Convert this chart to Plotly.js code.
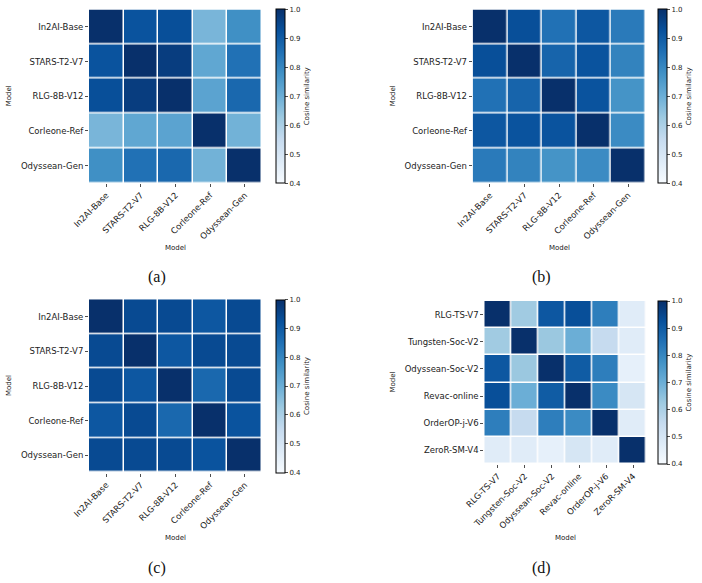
<!DOCTYPE html>
<html>
<head>
<meta charset="utf-8">
<script src="https://cdn.plot.ly/plotly-3.0.1.min.js"></script>
<style>html,body{margin:0;padding:0;background:#fff;}#chart{width:702px;height:583px;}</style>
</head>
<body>
<div id="chart"></div>
<script>
const modelsABC = ["In2AI-Base", "STARS-T2-V7", "RLG-8B-V12", "Corleone-Ref", "Odyssean-Gen"];
const modelsD = ["RLG-TS-V7", "Tungsten-Soc-V2", "Odyssean-Soc-V2", "Revac-online", "OrderOP-j-V6", "ZeroR-SM-V4"];

const simA = [
  [1.00, 0.92, 0.93, 0.68, 0.78],
  [0.92, 1.00, 0.97, 0.72, 0.85],
  [0.93, 0.97, 1.00, 0.73, 0.87],
  [0.68, 0.72, 0.73, 1.00, 0.69],
  [0.78, 0.85, 0.87, 0.69, 1.00]
];
const simB = [
  [1.00, 0.93, 0.85, 0.91, 0.83],
  [0.93, 1.00, 0.88, 0.92, 0.81],
  [0.85, 0.88, 1.00, 0.92, 0.77],
  [0.91, 0.92, 0.92, 1.00, 0.79],
  [0.83, 0.81, 0.77, 0.79, 1.00]
];
const simC = [
  [1.00, 0.94, 0.94, 0.91, 0.94],
  [0.94, 1.00, 0.91, 0.94, 0.94],
  [0.94, 0.91, 1.00, 0.87, 0.94],
  [0.91, 0.94, 0.87, 1.00, 0.92],
  [0.94, 0.94, 0.94, 0.92, 1.00]
];
const simD = [
  [1.00, 0.62, 0.91, 0.93, 0.82, 0.47],
  [0.62, 1.00, 0.63, 0.70, 0.55, 0.47],
  [0.91, 0.63, 1.00, 0.90, 0.82, 0.45],
  [0.93, 0.70, 0.90, 1.00, 0.79, 0.50],
  [0.82, 0.55, 0.82, 0.79, 1.00, 0.47],
  [0.47, 0.47, 0.45, 0.50, 0.47, 1.00]
];
const cbTicks = [0.4, 0.5, 0.6, 0.7, 0.8, 0.9, 1.0];
const captions = ["(a)", "(b)", "(c)", "(d)"];

const W = 702, H = 583;
const px = v => v / W;
const py = v => 1 - v / H;

const blues = [
  [0.0, "#f7fbff"], [0.125, "#deebf7"], [0.25, "#c6dbef"], [0.375, "#9ecae1"],
  [0.5, "#6baed6"], [0.625, "#4292c6"], [0.75, "#2171b5"], [0.875, "#08519c"], [1.0, "#08306b"]
];

// panel geometry in pixels: [left, right, top, bottom]
const panels = [
  {l: 89, r: 262, t: 9.5, b: 183, cbx: 276, xt: 248, yx: 9, cap: 277, labels: modelsABC, z: simA},
  {l: 472.7, r: 645.3, t: 9.5, b: 183, cbx: 658, xt: 248, yx: 393, cap: 277, labels: modelsABC, z: simB},
  {l: 89, r: 262, t: 299.3, b: 472.7, cbx: 276, xt: 538, yx: 9, cap: 568, labels: modelsABC, z: simC},
  {l: 484.3, r: 646.7, t: 301, b: 464, cbx: 658, xt: 538, yx: 393, cap: 568, labels: modelsD, z: simD}
];
const capX = [157, 541.7, 157, 541.7];

const font = "DejaVu Sans, Liberation Sans, sans-serif";
const data = [];
const layout = {
  width: W, height: H,
  margin: {l: 0, r: 0, t: 0, b: 0},
  paper_bgcolor: "#fff", plot_bgcolor: "#fff",
  font: {family: font, color: "#222"},
  showlegend: false,
  annotations: []
};

panels.forEach((p, i) => {
  const n = i === 0 ? "" : String(i + 1);
  data.push({
    type: "heatmap",
    x: p.labels, y: p.labels, z: p.z,
    xaxis: "x" + n, yaxis: "y" + n,
    zmin: 0.4, zmax: 1.0,
    colorscale: blues,
    xgap: 1.5, ygap: 1.5,
    hoverongaps: false,
    colorbar: {
      x: px(p.cbx), xanchor: "left", xpad: 0, ypad: 0,
      y: py((p.t + p.b) / 2), yanchor: "middle",
      lenmode: "pixels", len: p.b - p.t,
      thickness: 9,
      outlinewidth: 1, outlinecolor: "#000",
      tickvals: cbTicks, tickformat: ".1f",
      ticks: "outside", ticklen: 3, tickwidth: 0.8, tickcolor: "#222",
      tickfont: {size: 7, family: font, color: "#222"},
      title: {text: "Cosine similarity", side: "right", font: {size: 7, family: font, color: "#222"}}
    }
  });
  layout["xaxis" + n] = {
    domain: [px(p.l), px(p.r)],
    anchor: "y" + n,
    type: "category",
    tickangle: -45,
    ticks: "outside", ticklen: 3, tickwidth: 0.8, tickcolor: "#222",
    tickfont: {size: 8.5, family: font, color: "#222"},
    showgrid: false, zeroline: false, showline: false,
    fixedrange: true
  };
  layout["yaxis" + n] = {
    domain: [py(p.b), py(p.t)],
    anchor: "x" + n,
    type: "category",
    autorange: "reversed",
    ticks: "outside", ticklen: 3, tickwidth: 0.8, tickcolor: "#222",
    tickfont: {size: 8.5, family: font, color: "#222"},
    showgrid: false, zeroline: false, showline: false,
    fixedrange: true
  };
  layout.annotations.push({
    text: "Model", xref: "paper", yref: "paper",
    x: px((p.l + p.r) / 2), y: py(p.xt), xanchor: "center", yanchor: "middle",
    showarrow: false, font: {size: 7, family: font, color: "#222"}
  });
  layout.annotations.push({
    text: "Model", xref: "paper", yref: "paper", textangle: -90,
    x: px(p.yx), y: py((p.t + p.b) / 2), xanchor: "center", yanchor: "middle",
    showarrow: false, font: {size: 7, family: font, color: "#222"}
  });
  layout.annotations.push({
    text: captions[i], xref: "paper", yref: "paper",
    x: px(capX[i]), y: py(p.cap), xanchor: "center", yanchor: "middle",
    showarrow: false, font: {size: 16, family: "Liberation Serif, Times New Roman, serif", color: "#111"}
  });
});

Plotly.newPlot("chart", data, layout, {displayModeBar: false, staticPlot: true});
</script>
</body>
</html>
